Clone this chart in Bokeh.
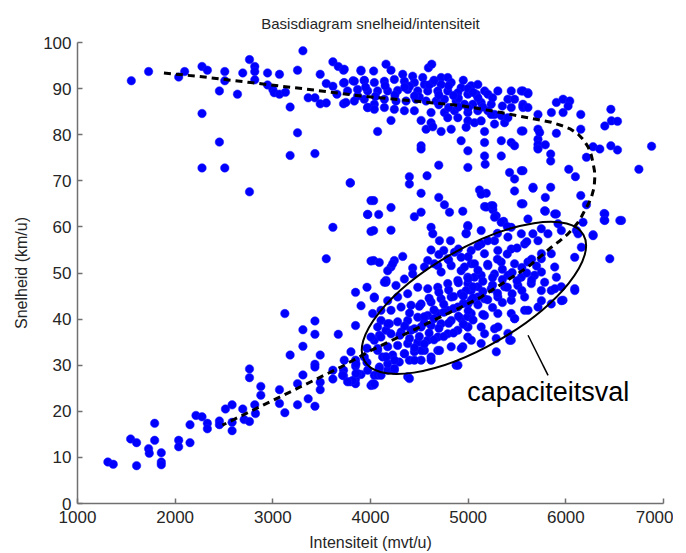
from bokeh.plotting import figure
from bokeh.models import Range1d, FixedTicker, Label
from bokeh.embed import file_html
from bokeh.resources import INLINE

# ---- data: (intensiteit [mvt/u], snelheid [km/u]) ----
lage_snelheid = [
    (1311, 9.0), (1366, 8.5), (1605, 8.2), (1544, 14.0), (1605, 13.2), (1728, 11.9), (1735, 10.9),
    (1790, 17.4), (1790, 13.7), (1858, 11.0), (1858, 9.0), (1858, 8.4), (2036, 13.7), (2036, 12.3),
    (2152, 17.1), (2152, 13.2), (2213, 19.1), (2275, 18.8), (2330, 17.4), (2330, 16.2), (2453, 17.9),
    (2453, 17.1), (2515, 20.5), (2583, 21.4), (2583, 17.6), (2583, 15.8), (2692, 20.5), (2706, 18.2),
    (2761, 17.8), (2761, 29.2), (2761, 27.3), (2815, 21.4), (2822, 19.5), (2877, 25.4), (2877, 23.5),
    (3068, 24.7), (3068, 21.7), (3123, 41.2), (3123, 19.7), (3177, 32.2), (3253, 26.0), (3253, 21.4),
    (3308, 37.7), (3308, 34.1), (3308, 27.9), (3362, 22.7), (3431, 39.6), (3431, 36.7), (3431, 30.2),
    (3431, 29.6), (3431, 21.1), (3485, 32.2), (3485, 26.3), (3485, 24.7), (3615, 28.9), (3615, 27.0),
    (3670, 36.7), (3724, 28.9), (3724, 27.7), (3793, 26.4), (3847, 45.8), (3847, 38.6), (3847, 31.1),
    (3847, 29.8), (3847, 27.0), (3847, 26.0), (3903, 42.9), (3903, 28.0), (3964, 46.9), (3964, 33.7),
    (3964, 30.6), (4005, 25.6),
]

vrij_links = [
    (1551, 91.7), (1728, 93.7), (2036, 92.5), (2097, 93.7), (2275, 94.8), (2330, 94.0), (2275, 84.6),
    (2275, 72.8), (2453, 78.4), (2508, 72.8), (2453, 89.5), (2508, 93.7), (2508, 91.7), (2638, 88.8),
    (2692, 93.4), (2761, 96.3), (2815, 94.8), (2815, 93.7), (2815, 91.9), (2761, 67.6), (2946, 93.4),
    (2946, 90.8), (3000, 89.8), (3014, 89.1), (3068, 93.1), (3068, 88.8), (3129, 89.2), (3177, 86.0),
    (3177, 75.5), (3253, 94.0), (3253, 80.4), (3308, 98.2), (3362, 88.0), (3431, 88.0), (3431, 75.9),
    (3485, 93.1), (3485, 86.7), (3547, 91.1), (3547, 86.9), (3547, 53.1), (3615, 95.8), (3615, 59.9),
    (3615, 90.5), (3656, 88.8), (3670, 94.8), (3724, 94.0), (3724, 91.2), (3724, 86.7), (3793, 69.6),
    (3821, 91.7), (3868, 88.4), (3903, 93.8), (3937, 91.7), (3971, 85.9), (3971, 62.7), (4005, 65.7),
    (4005, 59.0), (4005, 52.6),
]

vrij_midden = [
    (3731, 94.2), (3902, 94.0), (4032, 93.8), (4159, 95.3), (4210, 94.0), (4330, 93.1), (4432, 92.7),
    (4535, 92.4), (4593, 94.5), (4627, 95.3), (4723, 92.4), (4791, 92.4), (3731, 91.3), (3834, 91.6),
    (3936, 91.8), (4039, 91.3), (4142, 91.6), (4244, 92.0), (4347, 91.6), (4449, 91.3), (4552, 90.9),
    (4638, 91.3), (4723, 90.9), (4826, 91.3), (4928, 90.2), (5031, 90.6), (5099, 90.9), (5168, 89.5),
    (5304, 89.5), (5441, 89.5), (5544, 89.5), (5612, 89.1), (3765, 89.5), (3868, 89.8), (3971, 89.5),
    (4073, 89.5), (4176, 89.5), (4278, 89.6), (4381, 89.8), (4484, 89.5), (4586, 89.5), (4689, 89.5),
    (4791, 89.5), (4894, 89.1), (4997, 88.8), (5082, 88.8), (5202, 88.8), (3748, 87.0), (3834, 87.3),
    (3936, 87.7), (4039, 86.6), (4142, 87.7), (4261, 87.3), (4364, 87.3), (4467, 87.7), (4569, 87.3),
    (4672, 87.3), (4757, 87.7), (4877, 87.3), (4962, 86.6), (5048, 86.6), (5133, 87.0), (5236, 86.6),
    (5407, 87.7), (5475, 87.7), (5561, 86.6), (3971, 85.9), (4039, 85.5), (4142, 85.9), (4244, 85.5),
    (4347, 85.2), (4449, 85.2), (4620, 84.8), (4757, 84.8), (4860, 85.2), (4997, 84.8), (5099, 85.2),
    (5202, 85.2), (5270, 84.4), (5441, 85.9), (5561, 85.9), (4791, 83.7), (4894, 83.7), (4997, 83.0),
    (5065, 82.6), (5133, 83.0), (4210, 83.1), (4518, 83.1), (4620, 82.6), (4073, 80.7), (4569, 81.2),
    (4638, 81.7), (4723, 80.7), (4826, 81.2), (4979, 81.6), (5168, 80.7), (5270, 82.3), (5373, 82.6),
    (5544, 80.8), (4928, 78.7), (4518, 77.6), (4518, 76.9), (4997, 76.5), (5168, 78.3), (5339, 78.7),
    (5441, 78.3), (5168, 75.4), (5339, 75.4), (5475, 77.6), (5715, 79.0), (5715, 77.2), (5236, 84.4),
    (5339, 84.1), (5407, 83.7),
    (4400, 90.5), (4500, 88.2), (4600, 90.8), (4700, 88.6), (4800, 90.6), (4900, 87.9), (5000, 90.0),
    (5100, 88.0), (4950, 91.8), (4850, 88.5), (5050, 89.2), (4650, 91.8), (4450, 88.4), (4350, 90.3),
    (4250, 88.6), (4150, 90.6), (4050, 88.3), (3950, 90.3), (5150, 86.0), (5250, 88.0), (5350, 86.2),
    (5000, 85.8), (4900, 86.0), (4800, 85.9), (4700, 86.5),
]

vrij_rechts = [
    (5561, 89.5), (5612, 88.9), (5561, 86.2), (5612, 85.9), (5715, 84.4), (5852, 84.8), (5903, 87.0),
    (5972, 87.7), (6040, 87.3), (6023, 86.2), (5972, 84.8), (6153, 84.4), (6461, 85.5), (6399, 81.9),
    (6467, 83.0), (6529, 82.9), (5561, 80.8), (5715, 81.2), (5732, 80.5), (5903, 80.3), (6153, 81.2),
    (5715, 77.9), (5715, 76.9), (5790, 77.8), (5845, 75.8), (5845, 74.3), (6211, 75.1), (6279, 77.4),
    (6348, 76.9), (6461, 77.6), (6529, 76.7), (6878, 77.5), (6748, 72.5), (6030, 72.5), (6098, 70.9),
    (5561, 72.2), (5664, 68.6), (5845, 68.6), (5790, 66.4), (6153, 66.8), (6211, 64.8), (5561, 65.0),
    (5790, 63.4), (5903, 62.8), (6392, 62.9), (6392, 61.5), (6570, 61.4), (6279, 58.3),
]

overgang = [
    (3793, 69.5), (4699, 73.4), (4997, 72.9), (5174, 73.6), (4398, 70.9), (4398, 69.3), (4579, 71.1),
    (5424, 71.8), (5475, 70.4), (5544, 72.2), (5116, 68.0), (5185, 67.3), (5133, 67.1), (5475, 67.8),
    (5664, 68.4), (4032, 65.7), (4210, 64.2), (4518, 67.3), (4699, 66.4), (4757, 64.8), (4809, 63.2),
    (4945, 63.4), (5168, 64.4), (5236, 64.6), (5253, 63.7), (5544, 65.0), (3971, 62.7), (4084, 62.7),
    (4449, 62.2), (4518, 63.2), (5287, 62.4), (5363, 61.2), (4032, 59.2), (4210, 59.3), (4620, 59.9),
    (4638, 58.5), (4997, 60.1), (4979, 58.6), (4706, 57.0), (4819, 57.0), (4620, 55.0), (4750, 54.9),
    (4032, 52.7), (4090, 52.3), (4244, 52.7), (4330, 53.6), (4210, 51.3), (4432, 51.1), (4586, 52.7),
    (4689, 51.6), (4860, 54.5), (4791, 53.1), (4928, 53.4), (4159, 48.4),
]

capaciteit = [
    (4159, 48.0), (4039, 44.6), (4022, 41.2), (4108, 39.7), (4159, 37.6), (4091, 36.5), (4193, 39.0),
    (4039, 35.4), (4073, 33.2), (4159, 31.8), (4091, 29.6), (4176, 28.9), (4039, 27.8), (3817, 26.7),
    (3868, 28.2), (3714, 27.8), (4032, 25.7),
    (4039, 44.8), (4176, 50.5), (4227, 52.0), (4142, 48.0), (4261, 47.3), (4347, 48.7), (4432, 49.8),
    (4552, 51.3), (4655, 52.0), (4723, 50.2), (4826, 51.6), (4928, 50.5), (5031, 52.0), (5065, 49.1),
    (4997, 47.7), (4894, 48.4), (4791, 47.7), (4689, 46.9), (4586, 46.6), (4484, 46.9), (4381, 45.5),
    (4278, 44.8), (4176, 44.0), (4107, 41.9), (4210, 41.9), (4313, 42.6), (4415, 43.0), (4518, 43.3),
    (4620, 43.7), (4723, 44.4), (4826, 44.8), (4928, 45.5), (5031, 46.2), (5099, 44.8), (4997, 43.3),
    (4894, 42.6), (4791, 41.9), (4689, 41.2), (4586, 40.8), (4484, 40.4), (4381, 39.7), (4278, 39.4),
    (4176, 39.0), (4073, 38.3), (4005, 36.1), (4107, 36.1), (4210, 36.8), (4313, 37.2), (4415, 37.6),
    (4518, 38.3), (4620, 38.6), (4723, 39.0), (4826, 39.7), (4928, 40.1), (5031, 41.2), (4997, 38.3),
    (4894, 37.6), (4791, 36.8), (4689, 36.1), (4586, 35.4), (4484, 35.0), (4381, 34.7), (4278, 34.3),
    (4176, 34.0), (4073, 33.6), (4124, 31.8), (4227, 32.2), (4347, 32.5), (4449, 32.9), (4552, 33.2),
    (4689, 33.2), (4826, 34.0), (4176, 30.3), (4295, 30.7), (4398, 31.1), (4518, 31.1), (4620, 31.8),
    (4877, 30.0), (4381, 27.5), (4244, 28.9), (4090, 29.3), (4022, 26.0), (3851, 28.2), (3765, 26.4),
    (3851, 30.3), (3800, 32.9), (3731, 31.1), (4073, 27.8),
    (5185, 64.3), (5253, 64.6), (4996, 60.3), (4979, 58.5), (5133, 59.2), (5270, 62.1), (5338, 61.0),
    (5441, 59.9), (5612, 61.7), (5783, 63.5), (5886, 62.8), (5920, 60.7), (5749, 59.6), (5663, 58.5),
    (5544, 58.5), (5407, 57.8), (5270, 57.0), (5133, 56.3), (5031, 54.9), (5167, 54.2), (5304, 54.9),
    (5441, 55.2), (5578, 56.3), (5715, 57.0), (5817, 58.5), (5954, 59.2), (6108, 59.2), (6176, 61.0),
    (6159, 55.6), (6091, 53.4), (6125, 58.5), (6279, 58.1), (6399, 62.8), (6399, 61.4), (6553, 61.4),
    (6450, 53.1), (5851, 54.2), (5749, 53.1), (5612, 52.4), (5475, 52.0), (5338, 52.4), (5202, 51.6),
    (5065, 52.0), (4962, 51.3), (4996, 49.1), (5133, 49.5), (5270, 49.8), (5407, 49.5), (5544, 49.1),
    (5680, 49.5), (5886, 51.3), (5903, 49.1), (5783, 48.0), (5646, 47.7), (5509, 47.3), (5373, 47.0),
    (5236, 46.6), (5099, 47.0), (4979, 46.2), (5031, 44.1), (5167, 44.4), (5304, 44.8), (5441, 44.1),
    (5578, 44.8), (5749, 46.2), (5851, 46.2), (5954, 47.0), (6091, 46.6), (5971, 44.1), (5851, 43.3),
    (5715, 42.6), (5578, 41.9), (5441, 41.2), (5304, 41.2), (5167, 40.8), (4996, 40.5), (4996, 38.3),
    (5133, 38.3), (5270, 37.9), (5407, 36.9), (5475, 40.1), (5287, 35.8), (5441, 35.4), (4996, 36.1),
    (5133, 34.7), (4945, 34.0),
    (5955, 44.0), (6092, 46.2), (5887, 46.6), (5425, 35.4), (5288, 32.9), (4895, 30.0), (4399, 27.1),
    (4245, 29.3), (4108, 27.8), (4040, 25.9), (3971, 28.9), (3937, 31.8), (4160, 31.8), (4245, 31.1),
    (4450, 31.1), (4621, 31.1), (4707, 33.2), (4519, 33.2), (4348, 32.5), (4929, 33.6), (5032, 35.4),
    (5168, 36.8), (5305, 38.3), (5476, 40.1), (5613, 41.9), (5750, 44.0),
]

capaciteit_kern = [
    (4300, 36.5), (4350, 38.5), (4400, 35.8), (4450, 37.9), (4500, 36.2), (4550, 39.2), (4600, 37.0),
    (4650, 40.1), (4700, 38.0), (4750, 41.5), (4800, 39.1), (4850, 42.3), (4900, 40.6), (4950, 43.4),
    (5000, 41.8), (5050, 44.6), (5100, 43.1), (5150, 46.0), (5200, 44.2), (5250, 47.4), (5300, 45.6),
    (5350, 48.6), (5400, 46.9), (5450, 50.1), (5500, 48.3), (5550, 51.2), (5600, 50.0), (5650, 53.0),
    (5700, 51.5), (5750, 54.2), (4400, 41.3), (4500, 42.8), (4600, 44.5), (4700, 45.8), (4800, 46.3),
    (4900, 47.9), (5000, 48.8), (5100, 50.6), (5200, 51.9), (5300, 53.0), (5400, 54.1), (5500, 55.4),
    (5600, 56.8), (4450, 33.8), (4550, 34.6), (4650, 35.5), (4750, 36.2), (4850, 37.0), (4950, 38.9),
    (5050, 39.8), (5150, 41.0), (5250, 42.5), (5350, 43.6), (5450, 45.5), (5550, 46.2), (5650, 48.5),
    (5750, 50.2), (4950, 45.0), (5050, 47.0), (5150, 48.2), (5250, 49.0), (5350, 50.8), (4850, 44.9),
    (4750, 43.2), (4650, 42.0), (4550, 40.5), (5000, 53.5), (5100, 55.8), (5200, 57.0), (5300, 58.6),
    (5400, 60.1), (4900, 55.2), (4800, 52.8), (4700, 54.0),
]

# schematic fundamental-diagram curve (dashed)
curve_x = [1885, 2300, 2774, 3300, 3903, 4500, 4929, 5339, 5681, 5850, 5955, 6050, 6126, 6185, 6229,
           6262, 6280, 6293, 6297, 6290, 6263, 6232, 6194, 6160, 6126, 6080, 6023, 5940, 5852, 5613,
           5133, 4928, 4005, 3697, 2484]
curve_y = [93.4, 92.5, 91.3, 90.0, 88.4, 87.2, 86.3, 84.8, 83.4, 82.7, 82.0, 81.2, 80.1, 78.8, 77.3,
           75.5, 73.7, 72.2, 70.8, 68.6, 66.5, 65.0, 63.6, 62.2, 61.0, 59.8, 58.5, 57.0, 55.6, 51.3,
           44.8, 42.6, 33.2, 29.6, 17.0]

x_ticks = [1000, 2000, 3000, 4000, 5000, 6000, 7000]
y_ticks = [0, 10, 20, 30, 40, 50, 60, 70, 80, 90, 100]

alle = lage_snelheid + vrij_links + vrij_midden + vrij_rechts + overgang + capaciteit + capaciteit_kern
intensiteit = [pt[0] for pt in alle]
snelheid = [pt[1] for pt in alle]

FONT = "Liberation Sans"
TXT = "#262626"

p = figure(width=673, height=553, x_range=Range1d(1000, 7000), y_range=Range1d(0, 100),
           output_backend="svg", toolbar_location=None,
           min_border_left=77, min_border_right=10, min_border_top=42, min_border_bottom=49,
           title="Basisdiagram snelheid/intensiteit")
p.outline_line_color = None
p.grid.visible = False
p.background_fill_color = "white"
p.border_fill_color = "white"

p.title.align = "center"
p.title.text_font = FONT
p.title.text_font_size = "15px"
p.title.text_font_style = "normal"
p.title.text_color = TXT
p.title.standoff = 22

for ax in (p.xaxis[0], p.yaxis[0]):
    ax.axis_line_color = "#707070"
    ax.axis_line_width = 1.5
    ax.major_tick_line_color = "#707070"
    ax.major_tick_line_width = 1.5
    ax.major_tick_in = 5
    ax.major_tick_out = 0
    ax.minor_tick_line_color = None
    ax.major_label_text_font = FONT
    ax.major_label_text_font_size = "17px"
    ax.major_label_text_color = TXT
    ax.axis_label_text_font = FONT
    ax.axis_label_text_font_size = "16px"
    ax.axis_label_text_font_style = "normal"
    ax.axis_label_text_color = TXT

p.xaxis.ticker = FixedTicker(ticks=x_ticks)
p.yaxis.ticker = FixedTicker(ticks=y_ticks)
p.xaxis.axis_label = "Intensiteit (mvt/u)"
p.yaxis.axis_label = "Snelheid (km/u)"
p.xaxis.major_label_standoff = 7
p.xaxis.axis_label_standoff = 8
p.yaxis.major_label_standoff = 6
p.yaxis.axis_label_standoff = 10

p.scatter(intensiteit, snelheid, size=8.5, marker="circle",
          fill_color="#0000ff", line_color="#1a1aff", line_width=0.5)

p.line(curve_x, curve_y, line_color="black", line_width=3, line_dash="7 5")

p.ellipse(x=[5059], y=[44.6], width=252.8, height=98.2, width_units="screen",
          height_units="screen", angle=30, angle_units="deg",
          fill_color=None, line_color="black", line_width=2)

p.line([5613, 5818], [36.5, 27.8], line_color="black", line_width=1.5)
p.add_layout(Label(x=4990, y=24.1, text="capaciteitsval", text_font=FONT,
                   text_font_size="27px", text_color="black", text_baseline="middle"))

open("out.html", "w").write(file_html(p, INLINE))
